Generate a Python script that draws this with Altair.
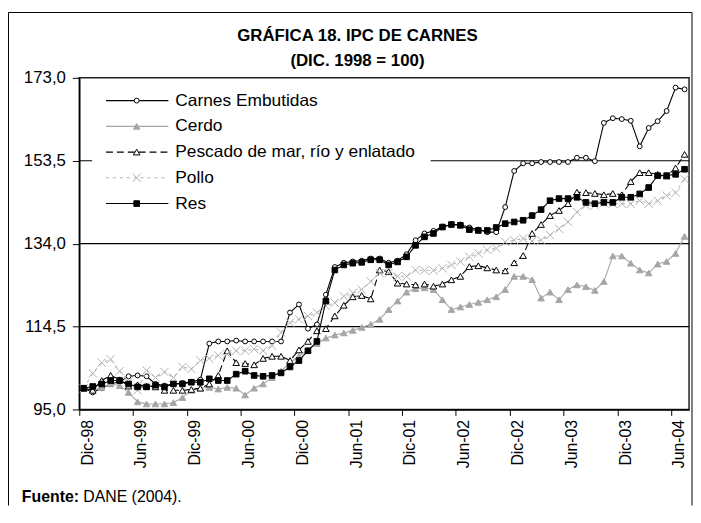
import json
import altair as alt
import pandas as pd

# ---------------- data ----------------
tick_labels = ["Dic-98", "Jun-99", "Dic-99", "Jun-00", "Dic-00", "Jun-01",
               "Dic-01", "Jun-02", "Dic-02", "Jun-03", "Dic-03", "Jun-04"]
y_ticks = [95.0, 114.5, 134.0, 153.5, 173.0]
grid_values = [114.5, 134.0, 153.5]

series_names = ["Carnes Embutidas", "Cerdo", "Pescado de mar, río y enlatado", "Pollo", "Res"]

carnes = [100.0, 99.0, 100.0, 101.0, 101.5, 102.8, 103.0, 102.8, 101.0, 100.6,
          101.0, 101.2, 101.5, 102.0, 110.5, 111.0, 111.0, 111.2, 111.0, 111.0,
          111.0, 111.0, 111.0, 117.8, 119.7, 114.0, 115.0, 122.0, 128.5, 129.5,
          129.8, 130.0, 130.5, 130.5, 129.5, 130.0, 131.5, 134.8, 136.4, 137.0,
          138.0, 138.5, 138.5, 137.8, 137.3, 136.7, 136.7, 142.6, 151.1, 152.9,
          152.9, 153.2, 153.2, 153.2, 153.2, 154.2, 154.2, 153.4, 162.4, 163.5,
          163.3, 162.9, 156.9, 161.2, 162.8, 165.2, 170.7, 170.3]

cerdo = [100.0, 99.5, 100.2, 101.0, 100.6, 99.0, 96.8, 96.3, 96.3, 96.3,
         96.6, 97.8, 99.5, 100.0, 100.2, 99.8, 100.2, 100.0, 98.4, 100.0,
         101.0, 102.5, 104.0, 106.0, 107.5, 109.0, 110.5, 111.8, 112.5, 113.0,
         113.6, 114.3, 115.0, 116.2, 118.5, 120.5, 122.6, 123.4, 123.6, 123.2,
         120.8, 118.5, 119.1, 119.7, 120.2, 120.8, 121.5, 123.2, 126.3, 126.3,
         125.5, 121.2, 122.6, 120.8, 123.2, 124.3, 123.9, 123.0, 125.1, 131.1,
         131.1, 129.4, 127.8, 127.1, 129.2, 129.8, 131.7, 135.7]

pescado = [100.0, 99.5, 101.8, 103.0, 102.0, 100.5, 100.8, 100.5, 100.3, 99.5,
           99.5, 99.5, 99.7, 100.0, 101.0, 103.0, 108.8, 106.0, 105.8, 105.5,
           107.0, 107.5, 107.5, 106.5, 109.0, 111.0, 113.5, 114.0, 117.0, 119.5,
           121.5, 121.8, 121.0, 127.8, 127.4, 124.7, 124.5, 124.3, 124.5, 124.0,
           124.5, 125.5, 126.3, 128.6, 128.8, 128.3, 127.8, 127.6, 129.5, 131.2,
           136.4, 138.5, 140.6, 141.8, 143.4, 146.1, 146.0, 145.8, 145.5, 145.8,
           145.5, 148.6, 150.7, 150.7, 150.3, 149.9, 151.8, 155.0]

pollo = [100.0, 103.5, 106.0, 106.8, 104.0, 101.5, 99.5, 104.2, 102.5, 103.8,
         102.5, 105.0, 104.5, 106.5, 107.0, 107.7, 108.0, 108.8, 108.8, 109.2,
         108.8, 110.0, 113.1, 115.4, 116.2, 117.0, 117.8, 119.3, 120.1, 121.6,
         122.4, 123.2, 125.1, 127.1, 127.1, 126.3, 126.3, 127.8, 127.7, 127.7,
         128.2, 129.0, 129.8, 130.9, 131.7, 132.5, 132.9, 134.4, 134.8, 135.2,
         134.6, 134.8, 136.0, 137.5, 139.1, 141.4, 143.0, 143.0, 143.5, 143.4,
         143.4, 143.4, 144.1, 143.4, 144.1, 145.3, 146.0, 149.2]

res = [100.0, 100.4, 101.0, 101.8, 101.8, 101.0, 100.3, 100.3, 100.7, 100.3,
       101.0, 101.0, 101.4, 101.4, 102.2, 101.8, 101.8, 103.3, 104.0, 103.0,
       102.8, 103.0, 103.6, 105.0, 106.5, 108.8, 111.0, 120.5, 127.8, 129.0,
       129.4, 129.6, 130.2, 130.2, 129.0, 129.7, 130.9, 133.6, 135.6, 136.4,
       137.9, 138.5, 138.3, 137.3, 137.1, 137.1, 137.8, 138.7, 139.1, 139.5,
       140.6, 142.0, 144.1, 144.6, 144.6, 144.9, 143.7, 143.4, 143.7, 143.7,
       144.9, 144.9, 145.7, 147.2, 150.0, 150.0, 150.3, 151.5]

all_values = [carnes, cerdo, pescado, pollo, res]
n_points = len(res)

# ---------------- styles ----------------
FONT = "Liberation Sans"
X_SHAPE = "M-1,-1L1,1M-1,1L1,-1"
styles = {
    "Carnes Embutidas": dict(color="#000000", dash=[1, 0], shape="circle", size=24,
                             fill="#ffffff", stroke="#000000", filled=True, sw=1.1),
    "Cerdo": dict(color="#a6a6a6", dash=[1, 0], shape="triangle-up", size=44,
                  fill="#a6a6a6", stroke="#a6a6a6", filled=True, sw=1.1),
    "Pescado de mar, río y enlatado": dict(color="#000000", dash=[7, 4], shape="triangle-up",
                                           size=44, fill="#ffffff", stroke="#000000",
                                           filled=True, sw=1.1),
    "Pollo": dict(color="#b4b4b4", dash=[3, 4], shape=X_SHAPE, size=70,
                  fill="none", stroke="#b0b0b0", filled=False, sw=1.1),
    "Res": dict(color="#000000", dash=[1, 0], shape="square", size=32,
                fill="#000000", stroke="#000000", filled=True, sw=1.1),
}

rows = []
for name, vals in zip(series_names, all_values):
    for i, v in enumerate(vals):
        rows.append({"serie": name, "i": i, "valor": v})
df = pd.DataFrame(rows)

W, H = 616, 335

label_expr = "{}[round((datum.value + 0.5) / 6)]".format(json.dumps(tick_labels))
x_enc = alt.X(
    "i:Q",
    scale=alt.Scale(domain=[-0.5, n_points - 0.5], nice=False, zero=False),
    axis=alt.Axis(values=[-0.5 + 6 * k for k in range(len(tick_labels))],
                  labelExpr=label_expr, title=None, grid=False,
                  labelAngle=270, labelAlign="right", labelBaseline="middle",
                  labelOffset=8, labelPadding=4, tickSize=6, tickColor="#000",
                  domainColor="#000", domainWidth=1.5, labelFont=FONT,
                  labelFontSize=16, labelColor="#000", labelFlush=False,
                  labelOverlap=False),
)
y_enc = alt.Y(
    "valor:Q",
    scale=alt.Scale(domain=[95, 173], nice=False, zero=False),
    axis=alt.Axis(values=y_ticks, title=None, grid=False,
                  labelExpr="replace(format(datum.value, '.1f'), '.', ',')",
                  tickSize=7, tickColor="#000", domainColor="#000", domainWidth=1.5,
                  labelPadding=7, labelFont=FONT, labelFontSize=17, labelColor="#000"),
)

layers = []

# gridlines
grid = alt.Chart(pd.DataFrame({"valor": grid_values})).mark_rule(
    color="#000", strokeWidth=1.2).encode(y=y_enc)
layers.append(grid)

# series
for name in series_names:
    st = styles[name]
    d = df[df.serie == name]
    base = alt.Chart(d)
    line = base.mark_line(color=st["color"], strokeWidth=st["sw"],
                          strokeDash=st["dash"]).encode(x=x_enc, y=y_enc)
    pt_kwargs = dict(shape=st["shape"], size=st["size"], stroke=st["stroke"],
                     strokeWidth=1, opacity=1, filled=st["filled"])
    if st["filled"]:
        pt_kwargs["fill"] = st["fill"]
    pts = base.mark_point(**pt_kwargs).encode(x=x_enc, y=y_enc)
    layers.append(line)
    layers.append(pts)

# legend (drawn manually, inside plot area)
legend_box = alt.Chart(pd.DataFrame({"k": [0]})).mark_rect(fill="#ffffff", stroke=None).encode(
    x=alt.value(13), x2=alt.value(355), y=alt.value(8), y2=alt.value(140))
layers.append(legend_box)

for r, name in enumerate(series_names):
    st = styles[name]
    ld = pd.DataFrame({"r": [r], "name": [name]})
    lb = alt.Chart(ld).transform_calculate(ly="23 + 26 * datum.r")
    layers.append(lb.mark_rule(color=st["color"], strokeWidth=st["sw"],
                               strokeDash=st["dash"]).encode(
        x=alt.value(27), x2=alt.value(90), y=alt.Y("ly:Q", scale=None)))
    pt_kwargs = dict(shape=st["shape"], size=st["size"], stroke=st["stroke"],
                     strokeWidth=1, opacity=1, filled=st["filled"])
    if st["filled"]:
        pt_kwargs["fill"] = st["fill"]
    layers.append(lb.mark_point(**pt_kwargs).encode(
        x=alt.value(58), y=alt.Y("ly:Q", scale=None)))
    layers.append(lb.mark_text(align="left", baseline="middle", font=FONT,
                               fontSize=17.5, color="#000").encode(
        x=alt.value(97), y=alt.Y("ly:Q", scale=None), text="name:N"))

# titles and source
one = pd.DataFrame({"k": [0]})
layers.append(alt.Chart(one).mark_text(text="GRÁFICA 18. IPC DE CARNES", font=FONT,
                                       fontSize=17, fontWeight="bold", align="center",
                                       baseline="alphabetic", color="#000").encode(
    x=alt.value(281), y=alt.value(-37)))
layers.append(alt.Chart(one).mark_text(text="(DIC. 1998 = 100)", font=FONT,
                                       fontSize=17, fontWeight="bold", align="center",
                                       baseline="alphabetic", color="#000").encode(
    x=alt.value(281), y=alt.value(-12)))
layers.append(alt.Chart(one).mark_text(text="Fuente:", font=FONT, fontSize=16,
                                       fontWeight="bold", align="left",
                                       baseline="alphabetic", color="#000").encode(
    x=alt.value(-58), y=alt.value(428)))
layers.append(alt.Chart(one).mark_text(text="DANE (2004).", font=FONT, fontSize=16,
                                       align="left", baseline="alphabetic",
                                       color="#000").encode(
    x=alt.value(4), y=alt.value(428)))

# outer frame (left, top, right)
layers.append(alt.Chart(one).mark_rule(color="#000", strokeWidth=1).encode(
    x=alt.value(-71.5), y=alt.value(-66), y2=alt.value(432)))
layers.append(alt.Chart(one).mark_rule(color="#000", strokeWidth=1).encode(
    x=alt.value(-71.5), x2=alt.value(619), y=alt.value(-66)))
layers.append(alt.Chart(one).mark_rule(color="#000", strokeWidth=1).encode(
    x=alt.value(619), y=alt.value(-66), y2=alt.value(432)))

chart = alt.layer(*layers).properties(
    width=W, height=H,
    autosize=alt.AutoSizeParams(type="none"),
    padding={"left": 72, "top": 68, "right": 4, "bottom": 97},
    background="#ffffff",
).configure_view(stroke="#222222", strokeWidth=1.5)

chart.save("out.html", embed_options={"renderer": "svg", "actions": False})
